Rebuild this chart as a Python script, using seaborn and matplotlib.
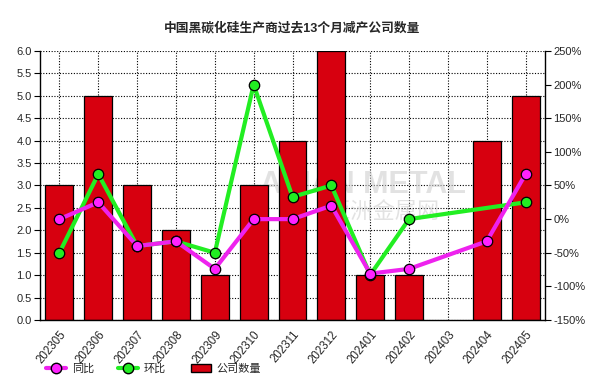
import numpy as np
import pandas as pd
import matplotlib
matplotlib.use("Agg")
import matplotlib.pyplot as plt
import seaborn as sns
from matplotlib.lines import Line2D
from matplotlib.patches import Patch

months = ["202305", "202306", "202307", "202308", "202309", "202310", "202311",
          "202312", "202401", "202402", "202403", "202404", "202405"]
company_count = [3, 5, 3, 2, 1, 3, 4, 6, 1, 1, np.nan, 4, 5]
yoy_pct = [0, 25, -40, -33, -74, 0, 0, 20, -81, -74, np.nan, -33, 67]
mom_pct = [-50, 67, -40, -33, -50, 200, 33, 50, -83, 0, np.nan, np.nan, 25]
left_ticks = [0.0, 0.5, 1.0, 1.5, 2.0, 2.5, 3.0, 3.5, 4.0, 4.5, 5.0, 5.5, 6.0]
right_ticks = [-150, -100, -50, 0, 50, 100, 150, 200, 250]

sns.set_style("white")
plt.rcParams['font.family'] = ['Liberation Sans', 'Noto Sans CJK SC', 'DejaVu Sans']

fig = plt.figure(figsize=(5.97, 3.87), dpi=100)
ax = fig.add_axes([40/597, 1-320/387, 505/597, 269/387])

df = pd.DataFrame({"month": months, "count": company_count})
sns.barplot(data=df, x="month", y="count", ax=ax, color="#D7000F",
            edgecolor="black", linewidth=0.9, width=0.72, saturation=1, zorder=2)
ax.set_ylim(0, 6)
ax.set_yticks(left_ticks)
ax.set_yticklabels([f"{t:.1f}" for t in left_ticks], fontsize=8)
ax.set_xlim(-0.5, len(months) - 0.5)
ax.set_xlabel("")
ax.set_ylabel("")
ax.set_xticks(range(len(months)))
ax.set_xticklabels(months, rotation=50, ha="right", rotation_mode="anchor", fontsize=8.3)
ax.grid(True, which="major", linestyle=(0, (1, 1.5)), color="black", linewidth=0.8)
ax.set_axisbelow(True)
ax.tick_params(axis="both", direction="out", length=4, width=0.8, color="black", pad=2)
for s in ["left", "bottom"]:
    ax.spines[s].set_color("black")
    ax.spines[s].set_linewidth(1)
ax.spines["top"].set_visible(False)
ax.spines["right"].set_visible(False)

# watermark (behind bars)
ax.text(0.64, 0.50, "ASIAN METAL", transform=ax.transAxes, fontsize=22, fontweight="bold",
        color="#d0d0d0", alpha=0.6, ha="center", va="center", zorder=1)
ax.text(0.68, 0.40, "亚洲金属网", transform=ax.transAxes, fontsize=16,
        color="#d0d0d0", alpha=0.6, ha="center", va="center", zorder=1)

ax2 = ax.twinx()
x_idx = np.arange(len(months))
d1 = pd.DataFrame({"x": x_idx, "y": yoy_pct}).dropna()
d2 = pd.DataFrame({"x": x_idx, "y": mom_pct}).dropna()
sns.lineplot(data=d1, x="x", y="y", ax=ax2, color="#EE22EE", linewidth=3,
             marker="o", markersize=7.5, markerfacecolor="#FF22FF",
             markeredgecolor="black", markeredgewidth=0.9, zorder=5)
sns.lineplot(data=d2, x="x", y="y", ax=ax2, color="#22EE22", linewidth=3,
             marker="o", markersize=7.5, markerfacecolor="#22EE22",
             markeredgecolor="black", markeredgewidth=0.9, zorder=4)
ax2.set_ylim(-150, 250)
ax2.set_yticks(right_ticks)
ax2.set_yticklabels([f"{t}%" for t in right_ticks], fontsize=8)
ax2.set_xlim(-0.5, len(months) - 0.5)
ax2.set_xlabel("")
ax2.set_ylabel("")
ax2.tick_params(axis="y", direction="out", length=4, width=0.8, color="black", pad=2)
for s in ["left", "bottom", "top"]:
    ax2.spines[s].set_visible(False)
ax2.spines["right"].set_color("black")
ax2.spines["right"].set_linewidth(1)
ax2.grid(False)

fig.text(292/597, 1-28/387, "中国黑碳化硅生产商过去13个月减产公司数量", ha="center", va="center",
         fontsize=9.2, fontweight="bold")

handles = [
    Line2D([0], [0], color="#EE22EE", linewidth=3, marker="o", markersize=7.5,
           markerfacecolor="#FF22FF", markeredgecolor="black"),
    Line2D([0], [0], color="#22EE22", linewidth=3, marker="o", markersize=7.5,
           markerfacecolor="#22EE22", markeredgecolor="black"),
    Patch(facecolor="#D7000F", edgecolor="black"),
]
fig.legend(handles, ["同比", "环比", "公司数量"], loc="center left",
           bbox_to_anchor=(36/597, 1-369/387), ncol=3, frameon=False, fontsize=8,
           handlelength=1.8, columnspacing=2.2, handletextpad=0.5)

fig.savefig("out.png", dpi=100)
